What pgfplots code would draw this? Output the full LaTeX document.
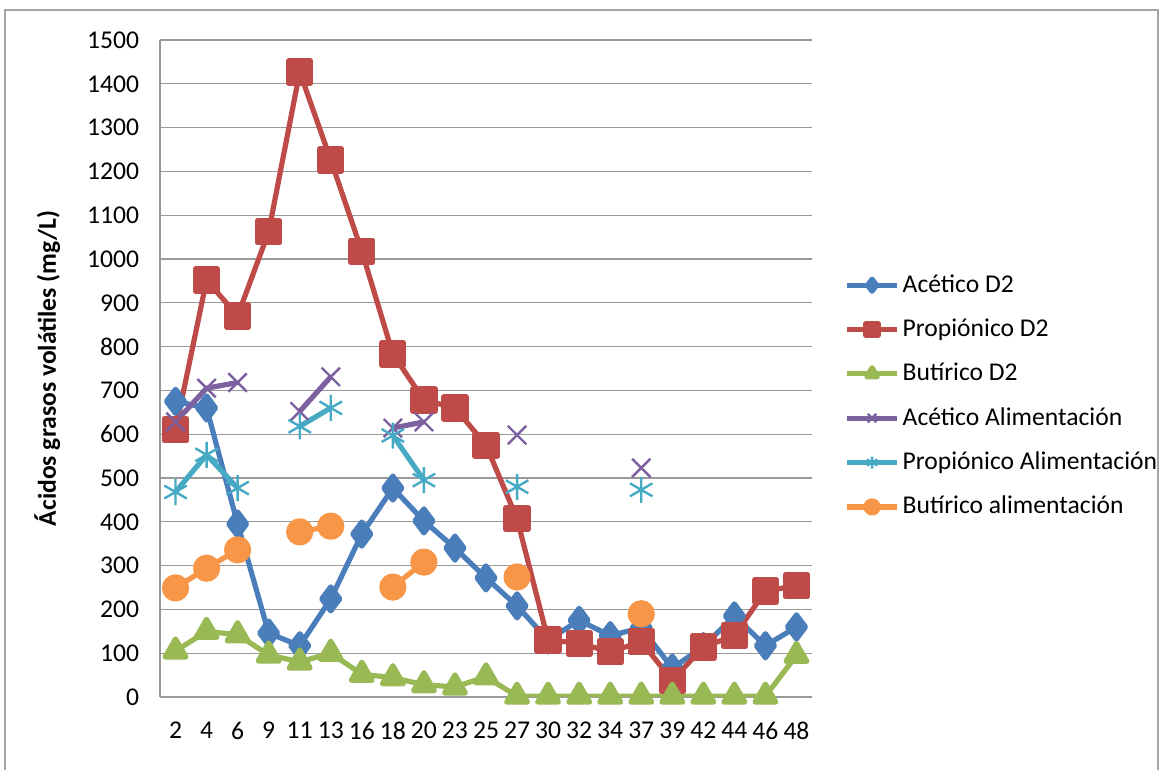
\documentclass[border=0pt]{standalone}
\usepackage{fontspec}
\setmainfont{Carlito}
\usepackage{pgfplots}
\usepackage{pgfplotstable}
\pgfplotsset{compat=1.18}

\definecolor{cA}{HTML}{4A7EBB}
\definecolor{cP}{HTML}{BE4B48}
\definecolor{cB}{HTML}{98B954}
\definecolor{cAA}{HTML}{7D60A0}
\definecolor{cPA}{HTML}{46AAC5}
\definecolor{cBA}{HTML}{F79646}

% dia: A P B = D2 ; AA PA BA = alimentacion
\pgfplotstableread{
idx A P B AA PA BA
0 675 610 105 628 468 249
1 660 952 150 705 553 294
2 395 870 142 718 477 336
3 146 1062 96 nan nan nan
4 117 1427 80 652 618 377
5 224 1226 100 731 660 390
6 372 1018 52 nan nan nan
7 477 783 44 614 597 251
8 402 678 28 628 495 308
9 340 660 23 nan nan nan
10 272 575 46 nan nan nan
11 208 407 2 598 480 274
12 130 130 2 nan nan nan
13 175 123 2 nan nan nan
14 140 103 2 nan nan nan
15 158 126 2 523 473 190
16 66 38 2 nan nan nan
17 115 114 2 nan nan nan
18 185 140 2 nan nan nan
19 117 242 2 nan nan nan
20 160 254 95 nan nan nan
}\datos

\begin{document}
\fontsize{12.8}{15}\selectfont
\begin{tikzpicture}
\useasboundingbox (0,0) rectangle (586pt,385pt);
\draw[gray!70, line width=1pt] (2.5pt,-5pt) -- (2.5pt,380pt) -- (579pt,380pt) -- (579pt,-5pt);
\begin{axis}[
    at={(80pt,36.5pt)}, anchor=south west,
    scale only axis,
    width=326pt, height=328.5pt,
    xmin=-0.5, xmax=20.5,
    ymin=0, ymax=1500,
    xtick={0,...,20},
    xticklabels={2,4,6,9,11,13,16,18,20,23,25,27,30,32,34,37,39,42,44,46,48},
    ytick={0,100,...,1500},
    ymajorgrids,
    grid style={gray!80, line width=0.6pt},
    axis line style={gray!80, line width=0.6pt},
    axis x line*=bottom, axis y line*=left,
    major tick length=0pt,
    xticklabel style={yshift=-8pt},
    yticklabel style={xshift=-6pt},
    /pgf/number format/assume math mode=true,
    /pgf/number format/1000 sep={},
    ylabel={\bfseries Ácidos grasos volátiles (mg/L)},
    ylabel style={at={(axis description cs:-0.173,0.5)}, anchor=center},
    unbounded coords=jump,
    every axis plot/.append style={line width=2.6pt, line join=round},
    legend style={at={(1.04,0.458)}, anchor=west, draw=none, fill=none,
        row sep=8.4pt, font=\fontsize{12.8}{15}\selectfont,
        nodes={inner sep=1.5pt}},
    legend cell align=left,
    legend image code/.code={\draw[mark repeat=2,mark phase=2,mark size=3pt]
        plot coordinates {(0pt,0pt)(12.5pt,0pt)(25pt,0pt)};},
]
\addplot[cA, mark=diamond*, mark size=6pt, mark options={solid}] table[x=idx,y=A]{\datos};
\addlegendentry{Acético D2}
\addplot[cP, mark=square*, mark size=5.5pt] table[x=idx,y=P]{\datos};
\addlegendentry{Propiónico D2}
\addplot[cB, mark=triangle*, mark size=6pt] table[x=idx,y=B]{\datos};
\addlegendentry{Butírico D2}
\addplot[cAA, mark=x, mark size=6.5pt, mark options={line width=1.2pt}] table[x=idx,y=AA]{\datos};
\addlegendentry{Acético Alimentación}
\addplot[cPA, mark=asterisk, mark size=6.5pt, mark options={line width=1.2pt}] table[x=idx,y=PA]{\datos};
\addlegendentry{Propiónico Alimentación}
\addplot[cBA, mark=*, mark size=5.5pt] table[x=idx,y=BA]{\datos};
\addlegendentry{Butírico alimentación}
\end{axis}
\end{tikzpicture}
\end{document}
